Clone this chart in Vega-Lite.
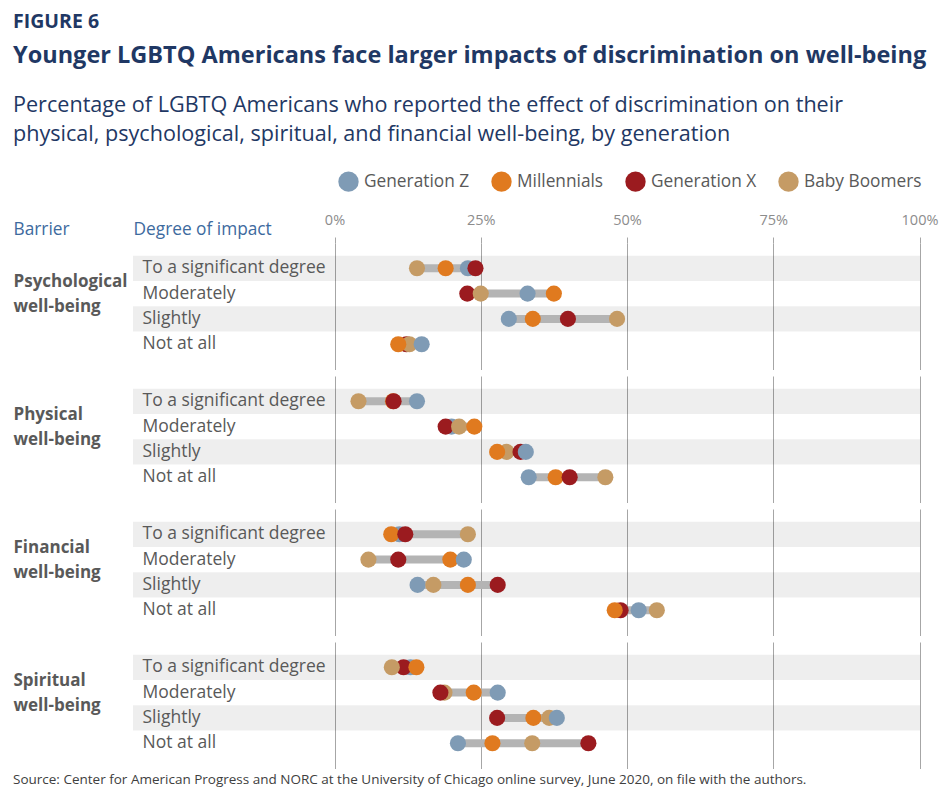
{
  "$schema": "https://vega.github.io/schema/vega-lite/v6.json",
  "background": "white",
  "padding": {"left": 13, "top": 11, "right": 5, "bottom": 5},
  "data": {"values": [
    {"barrier": "Psychological well-being", "impact": "To a significant degree", "generation": "Baby Boomers", "percent": 14.1},
    {"barrier": "Psychological well-being", "impact": "To a significant degree", "generation": "Millennials", "percent": 19.0},
    {"barrier": "Psychological well-being", "impact": "To a significant degree", "generation": "Generation Z", "percent": 22.8},
    {"barrier": "Psychological well-being", "impact": "To a significant degree", "generation": "Generation X", "percent": 24.1},
    {"barrier": "Psychological well-being", "impact": "Moderately", "generation": "Generation X", "percent": 22.7},
    {"barrier": "Psychological well-being", "impact": "Moderately", "generation": "Baby Boomers", "percent": 25.0},
    {"barrier": "Psychological well-being", "impact": "Moderately", "generation": "Generation Z", "percent": 33.0},
    {"barrier": "Psychological well-being", "impact": "Moderately", "generation": "Millennials", "percent": 37.5},
    {"barrier": "Psychological well-being", "impact": "Slightly", "generation": "Generation Z", "percent": 29.8},
    {"barrier": "Psychological well-being", "impact": "Slightly", "generation": "Millennials", "percent": 33.9},
    {"barrier": "Psychological well-being", "impact": "Slightly", "generation": "Generation X", "percent": 39.9},
    {"barrier": "Psychological well-being", "impact": "Slightly", "generation": "Baby Boomers", "percent": 48.3},
    {"barrier": "Psychological well-being", "impact": "Not at all", "generation": "Generation X", "percent": 12.3},
    {"barrier": "Psychological well-being", "impact": "Not at all", "generation": "Baby Boomers", "percent": 12.8},
    {"barrier": "Psychological well-being", "impact": "Not at all", "generation": "Millennials", "percent": 10.9},
    {"barrier": "Psychological well-being", "impact": "Not at all", "generation": "Generation Z", "percent": 14.9},
    {"barrier": "Physical well-being", "impact": "To a significant degree", "generation": "Millennials", "percent": 10.0},
    {"barrier": "Physical well-being", "impact": "To a significant degree", "generation": "Baby Boomers", "percent": 4.1},
    {"barrier": "Physical well-being", "impact": "To a significant degree", "generation": "Generation X", "percent": 10.1},
    {"barrier": "Physical well-being", "impact": "To a significant degree", "generation": "Generation Z", "percent": 14.1},
    {"barrier": "Physical well-being", "impact": "Moderately", "generation": "Generation Z", "percent": 20.0},
    {"barrier": "Physical well-being", "impact": "Moderately", "generation": "Generation X", "percent": 19.0},
    {"barrier": "Physical well-being", "impact": "Moderately", "generation": "Baby Boomers", "percent": 21.3},
    {"barrier": "Physical well-being", "impact": "Moderately", "generation": "Millennials", "percent": 23.9},
    {"barrier": "Physical well-being", "impact": "Slightly", "generation": "Baby Boomers", "percent": 29.4},
    {"barrier": "Physical well-being", "impact": "Slightly", "generation": "Millennials", "percent": 27.8},
    {"barrier": "Physical well-being", "impact": "Slightly", "generation": "Generation X", "percent": 31.8},
    {"barrier": "Physical well-being", "impact": "Slightly", "generation": "Generation Z", "percent": 32.7},
    {"barrier": "Physical well-being", "impact": "Not at all", "generation": "Generation Z", "percent": 33.2},
    {"barrier": "Physical well-being", "impact": "Not at all", "generation": "Millennials", "percent": 37.8},
    {"barrier": "Physical well-being", "impact": "Not at all", "generation": "Generation X", "percent": 40.2},
    {"barrier": "Physical well-being", "impact": "Not at all", "generation": "Baby Boomers", "percent": 46.3},
    {"barrier": "Financial well-being", "impact": "To a significant degree", "generation": "Generation Z", "percent": 11.1},
    {"barrier": "Financial well-being", "impact": "To a significant degree", "generation": "Millennials", "percent": 9.7},
    {"barrier": "Financial well-being", "impact": "To a significant degree", "generation": "Generation X", "percent": 12.1},
    {"barrier": "Financial well-being", "impact": "To a significant degree", "generation": "Baby Boomers", "percent": 22.8},
    {"barrier": "Financial well-being", "impact": "Moderately", "generation": "Baby Boomers", "percent": 5.8},
    {"barrier": "Financial well-being", "impact": "Moderately", "generation": "Generation X", "percent": 10.9},
    {"barrier": "Financial well-being", "impact": "Moderately", "generation": "Millennials", "percent": 19.8},
    {"barrier": "Financial well-being", "impact": "Moderately", "generation": "Generation Z", "percent": 22.1},
    {"barrier": "Financial well-being", "impact": "Slightly", "generation": "Generation Z", "percent": 14.2},
    {"barrier": "Financial well-being", "impact": "Slightly", "generation": "Baby Boomers", "percent": 16.9},
    {"barrier": "Financial well-being", "impact": "Slightly", "generation": "Millennials", "percent": 22.8},
    {"barrier": "Financial well-being", "impact": "Slightly", "generation": "Generation X", "percent": 27.9},
    {"barrier": "Financial well-being", "impact": "Not at all", "generation": "Generation X", "percent": 48.9},
    {"barrier": "Financial well-being", "impact": "Not at all", "generation": "Millennials", "percent": 47.9},
    {"barrier": "Financial well-being", "impact": "Not at all", "generation": "Generation Z", "percent": 52.0},
    {"barrier": "Financial well-being", "impact": "Not at all", "generation": "Baby Boomers", "percent": 55.1},
    {"barrier": "Spiritual well-being", "impact": "To a significant degree", "generation": "Generation Z", "percent": 13.0},
    {"barrier": "Spiritual well-being", "impact": "To a significant degree", "generation": "Generation X", "percent": 11.8},
    {"barrier": "Spiritual well-being", "impact": "To a significant degree", "generation": "Baby Boomers", "percent": 9.8},
    {"barrier": "Spiritual well-being", "impact": "To a significant degree", "generation": "Millennials", "percent": 14.0},
    {"barrier": "Spiritual well-being", "impact": "Moderately", "generation": "Baby Boomers", "percent": 18.8},
    {"barrier": "Spiritual well-being", "impact": "Moderately", "generation": "Generation X", "percent": 18.1},
    {"barrier": "Spiritual well-being", "impact": "Moderately", "generation": "Millennials", "percent": 23.8},
    {"barrier": "Spiritual well-being", "impact": "Moderately", "generation": "Generation Z", "percent": 27.9},
    {"barrier": "Spiritual well-being", "impact": "Slightly", "generation": "Generation X", "percent": 27.8},
    {"barrier": "Spiritual well-being", "impact": "Slightly", "generation": "Millennials", "percent": 34.0},
    {"barrier": "Spiritual well-being", "impact": "Slightly", "generation": "Baby Boomers", "percent": 36.7},
    {"barrier": "Spiritual well-being", "impact": "Slightly", "generation": "Generation Z", "percent": 38.0},
    {"barrier": "Spiritual well-being", "impact": "Not at all", "generation": "Generation Z", "percent": 21.1},
    {"barrier": "Spiritual well-being", "impact": "Not at all", "generation": "Millennials", "percent": 27.0},
    {"barrier": "Spiritual well-being", "impact": "Not at all", "generation": "Baby Boomers", "percent": 33.8},
    {"barrier": "Spiritual well-being", "impact": "Not at all", "generation": "Generation X", "percent": 43.4}
  ]},
  "title": {"text": "Source: Center for American Progress and NORC at the University of Chicago online survey, June 2020, on file with the authors.", "orient": "bottom", "anchor": "start", "fontSize": 13.5, "fontWeight": "normal", "color": "#404040", "offset": 4},
  "vconcat": [{
    "title": {"text": "FIGURE 6", "anchor": "start", "fontSize": 19.5, "fontWeight": "bold", "color": "#1f3864", "offset": 12},
    "vconcat": [{
      "title": {"text": "Younger LGBTQ Americans face larger impacts of discrimination on well-being", "subtitle": ["Percentage of LGBTQ Americans who reported the effect of discrimination on their", "physical, psychological, spiritual, and financial well-being, by generation"], "anchor": "start", "fontSize": 23.5, "fontWeight": "bold", "color": "#1f3864", "subtitleFontSize": 21.6, "subtitleColor": "#1f3864", "subtitleLineHeight": 29.5, "subtitlePadding": 27, "offset": 25},
      "spacing": 6,
      "resolve": {"legend": {"color": "independent"}},
      "vconcat": [
        {
          "width": 787, "height": 126.5,
          "transform": [{"filter": "datum.barrier === 'Psychological well-being'"}],
          "encoding": {"y": {"field": "impact", "type": "nominal", "sort": ["To a significant degree", "Moderately", "Slightly", "Not at all"], "scale": {"paddingInner": 0, "paddingOuter": 0.5},
            "axis": {"title": ["Psychological", "well-being"], "titleX": -120, "titleY": 38, "titleAngle": 0, "titleAlign": "left", "titleBaseline": "middle", "titleFontWeight": "bold", "titleFontSize": 17, "titleColor": "#595959", "titleLineHeight": 25.3, "labelAlign": "left", "labelPadding": -9, "labelFontSize": 17.5, "labelColor": "#595959", "labelLimit": 400, "ticks": false, "tickSize": 0, "domain": false, "zindex": 1}}},
          "resolve": {"axis": {"x": "independent"}},
          "layer": [
            {"transform": [{"filter": "datum.generation === 'Generation Z' && (datum.impact === 'To a significant degree' || datum.impact === 'Slightly')"}], "mark": {"type": "bar", "color": "#000000", "opacity": 0.068}},
            {"mark": {"type": "rule", "strokeWidth": 8, "color": "#b4b4b4"},
             "encoding": {"x": {"aggregate": "min", "field": "percent", "type": "quantitative", "scale": {"domain": [0, 100], "range": [201.5, 786.5], "nice": false, "zero": false},
               "axis": {"orient": "top", "grid": false, "labels": false, "ticks": false, "domain": false, "title": "Barrier", "titleX": -120, "titleY": -14, "titleAlign": "left", "titleAngle": 0, "titleBaseline": "middle", "titleFontSize": 17.3, "titleFontWeight": "normal", "titleColor": "#3d6a9e"}},
               "x2": {"aggregate": "max", "field": "percent"}}},
            {"mark": {"type": "circle", "size": 260, "opacity": 1},
             "encoding": {"x": {"field": "percent", "type": "quantitative", "scale": {"domain": [0, 100], "range": [201.5, 786.5], "nice": false, "zero": false},
               "axis": {"orient": "top", "values": [0, 25, 50, 75, 100], "labelExpr": "datum.value + '%'", "labelFlush": false, "grid": true, "gridColor": "#a6a6a6", "ticks": true, "tickSize": 6, "tickColor": "#a6a6a6", "domain": false, "labelFontSize": 14.5, "labelColor": "#8c8c8c", "labelPadding": 10, "title": "Degree of impact", "titleX": 0, "titleY": -14, "titleAlign": "left", "titleAngle": 0, "titleBaseline": "middle", "titleFontSize": 17.3, "titleFontWeight": "normal", "titleColor": "#3d6a9e"}},
               "color": {"field": "generation", "type": "nominal", "scale": {"domain": ["Generation Z", "Millennials", "Generation X", "Baby Boomers"], "range": ["#7f9bb5", "#e07a1f", "#9b1b1f", "#c59b65"]},
                 "legend": {"orient": "none", "legendX": 205, "legendY": -72, "direction": "horizontal", "title": null, "symbolType": "circle", "symbolSize": 415, "symbolStrokeWidth": 0, "labelFontSize": 17.3, "labelColor": "#595959", "labelOffset": 5, "columnPadding": 21}}}}
          ]
        },
        {
          "width": 787, "height": 126.5,
          "transform": [{"filter": "datum.barrier === 'Physical well-being'"}],
          "encoding": {"y": {"field": "impact", "type": "nominal", "sort": ["To a significant degree", "Moderately", "Slightly", "Not at all"], "scale": {"paddingInner": 0, "paddingOuter": 0.5},
            "axis": {"title": ["Physical", "well-being"], "titleX": -120, "titleY": 38, "titleAngle": 0, "titleAlign": "left", "titleBaseline": "middle", "titleFontWeight": "bold", "titleFontSize": 17, "titleColor": "#595959", "titleLineHeight": 25.3, "labelAlign": "left", "labelPadding": -9, "labelFontSize": 17.5, "labelColor": "#595959", "labelLimit": 400, "ticks": false, "tickSize": 0, "domain": false, "zindex": 1}}},
          "layer": [
            {"transform": [{"filter": "datum.generation === 'Generation Z' && (datum.impact === 'To a significant degree' || datum.impact === 'Slightly')"}], "mark": {"type": "bar", "color": "#000000", "opacity": 0.068}},
            {"mark": {"type": "rule", "strokeWidth": 8, "color": "#b4b4b4"},
             "encoding": {"x": {"aggregate": "min", "field": "percent", "type": "quantitative", "scale": {"domain": [0, 100], "range": [201.5, 786.5], "nice": false, "zero": false},
               "axis": {"values": [0, 25, 50, 75, 100], "grid": true, "gridColor": "#a6a6a6", "labels": false, "ticks": false, "domain": false, "title": null}},
               "x2": {"aggregate": "max", "field": "percent"}}},
            {"mark": {"type": "circle", "size": 260, "opacity": 1},
             "encoding": {"x": {"field": "percent", "type": "quantitative", "scale": {"domain": [0, 100], "range": [201.5, 786.5], "nice": false, "zero": false},
               "axis": {"values": [0, 25, 50, 75, 100], "grid": true, "gridColor": "#a6a6a6", "labels": false, "ticks": false, "domain": false, "title": null}},
               "color": {"field": "generation", "type": "nominal", "scale": {"domain": ["Generation Z", "Millennials", "Generation X", "Baby Boomers"], "range": ["#7f9bb5", "#e07a1f", "#9b1b1f", "#c59b65"]}, "legend": null}}}
          ]
        },
        {
          "width": 787, "height": 126.5,
          "transform": [{"filter": "datum.barrier === 'Financial well-being'"}],
          "encoding": {"y": {"field": "impact", "type": "nominal", "sort": ["To a significant degree", "Moderately", "Slightly", "Not at all"], "scale": {"paddingInner": 0, "paddingOuter": 0.5},
            "axis": {"title": ["Financial", "well-being"], "titleX": -120, "titleY": 38, "titleAngle": 0, "titleAlign": "left", "titleBaseline": "middle", "titleFontWeight": "bold", "titleFontSize": 17, "titleColor": "#595959", "titleLineHeight": 25.3, "labelAlign": "left", "labelPadding": -9, "labelFontSize": 17.5, "labelColor": "#595959", "labelLimit": 400, "ticks": false, "tickSize": 0, "domain": false, "zindex": 1}}},
          "layer": [
            {"transform": [{"filter": "datum.generation === 'Generation Z' && (datum.impact === 'To a significant degree' || datum.impact === 'Slightly')"}], "mark": {"type": "bar", "color": "#000000", "opacity": 0.068}},
            {"mark": {"type": "rule", "strokeWidth": 8, "color": "#b4b4b4"},
             "encoding": {"x": {"aggregate": "min", "field": "percent", "type": "quantitative", "scale": {"domain": [0, 100], "range": [201.5, 786.5], "nice": false, "zero": false},
               "axis": {"values": [0, 25, 50, 75, 100], "grid": true, "gridColor": "#a6a6a6", "labels": false, "ticks": false, "domain": false, "title": null}},
               "x2": {"aggregate": "max", "field": "percent"}}},
            {"mark": {"type": "circle", "size": 260, "opacity": 1},
             "encoding": {"x": {"field": "percent", "type": "quantitative", "scale": {"domain": [0, 100], "range": [201.5, 786.5], "nice": false, "zero": false},
               "axis": {"values": [0, 25, 50, 75, 100], "grid": true, "gridColor": "#a6a6a6", "labels": false, "ticks": false, "domain": false, "title": null}},
               "color": {"field": "generation", "type": "nominal", "scale": {"domain": ["Generation Z", "Millennials", "Generation X", "Baby Boomers"], "range": ["#7f9bb5", "#e07a1f", "#9b1b1f", "#c59b65"]}, "legend": null}}}
          ]
        },
        {
          "width": 787, "height": 126.5,
          "transform": [{"filter": "datum.barrier === 'Spiritual well-being'"}],
          "encoding": {"y": {"field": "impact", "type": "nominal", "sort": ["To a significant degree", "Moderately", "Slightly", "Not at all"], "scale": {"paddingInner": 0, "paddingOuter": 0.5},
            "axis": {"title": ["Spiritual", "well-being"], "titleX": -120, "titleY": 38, "titleAngle": 0, "titleAlign": "left", "titleBaseline": "middle", "titleFontWeight": "bold", "titleFontSize": 17, "titleColor": "#595959", "titleLineHeight": 25.3, "labelAlign": "left", "labelPadding": -9, "labelFontSize": 17.5, "labelColor": "#595959", "labelLimit": 400, "ticks": false, "tickSize": 0, "domain": false, "zindex": 1}}},
          "layer": [
            {"transform": [{"filter": "datum.generation === 'Generation Z' && (datum.impact === 'To a significant degree' || datum.impact === 'Slightly')"}], "mark": {"type": "bar", "color": "#000000", "opacity": 0.068}},
            {"mark": {"type": "rule", "strokeWidth": 8, "color": "#b4b4b4"},
             "encoding": {"x": {"aggregate": "min", "field": "percent", "type": "quantitative", "scale": {"domain": [0, 100], "range": [201.5, 786.5], "nice": false, "zero": false},
               "axis": {"values": [0, 25, 50, 75, 100], "grid": true, "gridColor": "#a6a6a6", "labels": false, "ticks": false, "domain": false, "title": null}},
               "x2": {"aggregate": "max", "field": "percent"}}},
            {"mark": {"type": "circle", "size": 260, "opacity": 1},
             "encoding": {"x": {"field": "percent", "type": "quantitative", "scale": {"domain": [0, 100], "range": [201.5, 786.5], "nice": false, "zero": false},
               "axis": {"values": [0, 25, 50, 75, 100], "grid": true, "gridColor": "#a6a6a6", "labels": false, "ticks": false, "domain": false, "title": null}},
               "color": {"field": "generation", "type": "nominal", "scale": {"domain": ["Generation Z", "Millennials", "Generation X", "Baby Boomers"], "range": ["#7f9bb5", "#e07a1f", "#9b1b1f", "#c59b65"]}, "legend": null}}}
          ]
        }
      ]
    }]
  }],
  "config": {
    "font": "Open Sans",
    "view": {"stroke": null},
    "title": {"font": "Open Sans", "subtitleFont": "Open Sans"},
    "axis": {"labelFont": "Open Sans", "titleFont": "Open Sans"},
    "legend": {"labelFont": "Open Sans"}
  }
}
